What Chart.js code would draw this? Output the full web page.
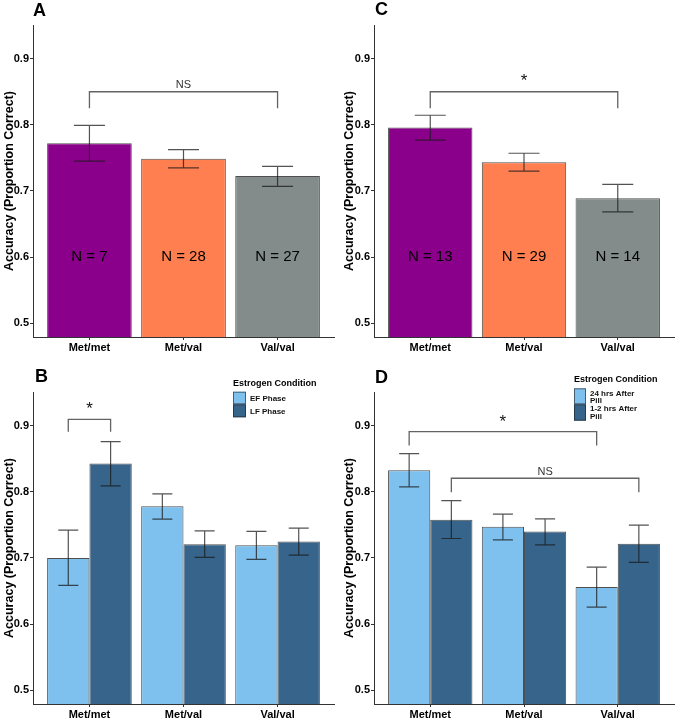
<!DOCTYPE html>
<html><head><meta charset="utf-8">
<script src="https://cdn.jsdelivr.net/npm/chart.js@4/dist/chart.umd.min.js"></script>
<style>
html,body{margin:0;padding:0;background:#fff;width:678px;height:719px;overflow:hidden;}
canvas{position:absolute;}
</style></head><body>
<canvas id="cA" width="339" height="360" style="left:0;top:0"></canvas>
<canvas id="cC" width="338" height="360" style="left:340px;top:0"></canvas>
<canvas id="cB" width="339" height="359" style="left:0;top:360px"></canvas>
<canvas id="cD" width="338" height="359" style="left:340px;top:360px"></canvas>
<script>
// ---------- data ----------
const genotypes = ['Met/met', 'Met/val', 'Val/val'];
const yTickValues = [0.5, 0.6, 0.7, 0.8, 0.9];
const yTitle = 'Accuracy (Proportion Correct)';
const legendTitle = 'Estrogen Condition';

// Panel A
const aMeans = [0.772, 0.7485, 0.7225];
const aLower = [0.745, 0.735, 0.707];
const aUpper = [0.799, 0.7625, 0.737];
const aNLabels = ['N = 7', 'N = 28', 'N = 27'];
const aBrackets = [{ from: [0, 0], to: [0, 2], bar: 0.85, leg: 0.825, text: 'NS', textY: 0.8603 }];

// Panel C
const cMeans = [0.796, 0.7435, 0.689];
const cLower = [0.7767, 0.730, 0.6684];
const cUpper = [0.8145, 0.757, 0.710];
const cNLabels = ['N = 13', 'N = 29', 'N = 14'];
const cBrackets = [{ from: [0, 0], to: [0, 2], bar: 0.85, leg: 0.825, text: '*', textY: 0.8719 }];

// Panel B
const bSeries = ['EF Phase', 'LF Phase'];
const bEF = [0.700, 0.778, 0.7193];
const bEFLower = [0.6584, 0.7586, 0.6977];
const bEFUpper = [0.742, 0.797, 0.740];
const bLF = [0.843, 0.7208, 0.7249];
const bLFLower = [0.809, 0.7007, 0.7042];
const bLFUpper = [0.876, 0.741, 0.745];
const bBrackets = [{ from: [0, 0], to: [1, 0], bar: 0.9096, leg: 0.891, text: '*', textY: 0.9312 }];

// Panel D
const dSeries = [['24 hrs After', 'Pill'], ['1-2 hrs After', 'Pill']];
const d24 = [0.8326, 0.747, 0.6559];
const d24Lower = [0.8074, 0.7274, 0.6257];
const d24Upper = [0.8577, 0.7661, 0.6861];
const d12 = [0.7576, 0.740, 0.7213];
const d12Lower = [0.7294, 0.7198, 0.6932];
const d12Upper = [0.7868, 0.7591, 0.7495];
const dBrackets = [
  { from: [0, 0], to: [0, 2], bar: 0.891, leg: 0.870, text: '*', textY: 0.9111 },
  { from: [1, 0], to: [1, 2], bar: 0.8205, leg: 0.7993, text: 'NS', textY: 0.8295 }
];

// ---------- styles ----------
const FONT = "'Liberation Sans', Arial, Helvetica, sans-serif";
const genotypeColors = ['#8B008B', '#FF7F50', '#838B8B'];
const lightBlue = '#7EC0EE';
const darkBlue = '#36648B';
const AXIS_COLOR = '#333333';

function toXY(vals) { return vals.map((v, i) => ({ x: i + 1, y: v })); }

function makeAnnot(cfg) {
  return {
    id: 'annot_' + cfg.id,
    afterDatasetsDraw(chart) {
      const ctx = chart.ctx;
      const ys = chart.scales.y;
      ctx.save();
      // error bars
      cfg.errors.forEach((err, d) => {
        const meta = chart.getDatasetMeta(d);
        meta.data.forEach((el, i) => {
          const x = el.x;
          const yl = ys.getPixelForValue(err.lower[i]);
          const yu = ys.getPixelForValue(err.upper[i]);
          const hw = cfg.capWidth / 2;
          ctx.strokeStyle = 'rgba(25,25,25,0.75)';
          ctx.lineWidth = 1.2;
          ctx.beginPath();
          ctx.moveTo(x, yl); ctx.lineTo(x, yu);
          ctx.moveTo(x - hw, yl); ctx.lineTo(x + hw, yl);
          ctx.moveTo(x - hw, yu); ctx.lineTo(x + hw, yu);
          ctx.stroke();
        });
      });
      // N labels
      if (cfg.nLabels) {
        const meta = chart.getDatasetMeta(0);
        ctx.fillStyle = '#000';
        ctx.font = '15px ' + FONT;
        ctx.textAlign = 'center';
        ctx.textBaseline = 'middle';
        meta.data.forEach((el, i) => {
          ctx.fillText(cfg.nLabels[i], el.x, ys.getPixelForValue(0.6));
        });
      }
      // brackets
      cfg.brackets.forEach(b => {
        const x1 = chart.getDatasetMeta(b.from[0]).data[b.from[1]].x;
        const x2 = chart.getDatasetMeta(b.to[0]).data[b.to[1]].x;
        const yb = ys.getPixelForValue(b.bar);
        const yl = ys.getPixelForValue(b.leg);
        ctx.strokeStyle = 'rgba(60,60,60,0.8)';
        ctx.lineWidth = 1.3;
        ctx.beginPath();
        ctx.moveTo(x1, yl); ctx.lineTo(x1, yb); ctx.lineTo(x2, yb); ctx.lineTo(x2, yl);
        ctx.stroke();
        ctx.fillStyle = b.text === '*' ? '#111' : '#333';
        ctx.textAlign = 'center';
        ctx.textBaseline = 'middle';
        const ty = ys.getPixelForValue(b.textY);
        if (b.text === '*') {
          ctx.font = '17px ' + FONT;
          ctx.fillText(b.text, (x1 + x2) / 2, ty + 17 * 0.22);
        } else {
          ctx.font = '11px ' + FONT;
          ctx.fillText(b.text, (x1 + x2) / 2, ty);
        }
      });
      ctx.restore();
    },
    afterDraw(chart) {
      const ctx = chart.ctx;
      ctx.save();
      // panel letter
      ctx.fillStyle = '#000';
      ctx.font = 'bold 18px ' + FONT;
      ctx.textAlign = 'left';
      ctx.textBaseline = 'middle';
      ctx.fillText(cfg.letter, cfg.letterPos[0], cfg.letterPos[1]);
      // legend
      if (cfg.legend) {
        const L = cfg.legend;
        ctx.font = 'bold 9px ' + FONT;
        ctx.textBaseline = 'middle';
        ctx.fillText(legendTitle, L.x, L.titleY);
        L.labels.forEach((lab, k) => {
          const ds = chart.data.datasets[k];
          const top = L.keyTops[k];
          const h = L.keyHeights[k];
          ctx.fillStyle = ds.backgroundColor;
          ctx.fillRect(L.x, top, L.keyW, h);
          ctx.strokeStyle = 'rgba(30,30,30,0.6)';
          ctx.lineWidth = 1;
          ctx.strokeRect(L.x + 0.5, top + 0.5, L.keyW - 1, h - 1);
          ctx.fillStyle = '#111';
          ctx.font = 'bold 8px ' + FONT;
          const lines = Array.isArray(lab) ? lab : [lab];
          lines.forEach((ln, j) => {
            ctx.fillText(ln, L.x + L.keyW + 4, L.textYs[k][j]);
          });
        });
      }
      ctx.restore();
    }
  };
}

function makeChart(cfg) {
  const tickFont = { family: FONT, size: 11, weight: 'bold' };
  new Chart(document.getElementById(cfg.id), {
    type: 'bar',
    data: { datasets: cfg.datasets },
    options: {
      responsive: false,
      animation: false,
      events: [],
      layout: { padding: { top: cfg.padTop, right: cfg.padRight, left: 0, bottom: 0 } },
      plugins: { legend: { display: false }, tooltip: { enabled: false } },
      scales: {
        x: {
          type: 'linear',
          min: 0.4, max: 3.6,
          offset: false,
          afterBuildTicks: s => { s.ticks = [1, 2, 3].map(v => ({ value: v })); },
          afterFit: s => { s.height = cfg.xAxisH; },
          ticks: {
            callback: v => genotypes[v - 1],
            font: tickFont, color: '#000', padding: 1,
            maxRotation: 0, autoSkip: false
          },
          grid: { offset: false, drawOnChartArea: false, drawTicks: true, tickLength: 3, color: AXIS_COLOR },
          border: { display: true, color: AXIS_COLOR, width: 1 }
        },
        y: {
          min: 0.479, max: 0.951,
          afterBuildTicks: s => { s.ticks = yTickValues.map(v => ({ value: v })); },
          afterFit: s => { s.width = cfg.yAxisW; },
          ticks: { callback: v => v.toFixed(1), font: tickFont, color: '#000', padding: 1 },
          grid: { drawOnChartArea: false, drawTicks: true, tickLength: 3, color: AXIS_COLOR },
          border: { display: true, color: AXIS_COLOR, width: 1 },
          title: {
            display: true, text: yTitle, color: '#000',
            font: { family: FONT, size: 12.5, weight: 'bold' },
            padding: { top: 2, bottom: 0 }
          }
        }
      }
    },
    plugins: [makeAnnot(cfg)]
  });
}

const barBorder = 'rgba(35,35,35,0.8)';

// Panel A
makeChart({
  id: 'cA', letter: 'A', letterPos: [33, 11.5],
  padTop: 25, padRight: 5, yAxisW: 33, xAxisH: 23, capWidth: 31,
  datasets: [{
    data: toXY(aMeans), backgroundColor: genotypeColors, borderColor: barBorder, borderWidth: 1,
    barPercentage: 0.9, categoryPercentage: 1.0
  }],
  errors: [{ lower: aLower, upper: aUpper }],
  nLabels: aNLabels, brackets: aBrackets
});

// Panel C
makeChart({
  id: 'cC', letter: 'C', letterPos: [35, 10],
  padTop: 25, padRight: 4, yAxisW: 34, xAxisH: 23, capWidth: 31,
  datasets: [{
    data: toXY(cMeans), backgroundColor: genotypeColors, borderColor: barBorder, borderWidth: 1,
    barPercentage: 0.9, categoryPercentage: 1.0
  }],
  errors: [{ lower: cLower, upper: cUpper }],
  nLabels: cNLabels, brackets: cBrackets
});

// Panel B
makeChart({
  id: 'cB', letter: 'B', letterPos: [35, 17],
  padTop: 32, padRight: 5, yAxisW: 33, xAxisH: 15, capWidth: 20,
  datasets: [
    { label: bSeries[0], data: toXY(bEF), backgroundColor: lightBlue, borderColor: barBorder, borderWidth: 1, barPercentage: 1.0, categoryPercentage: 0.9 },
    { label: bSeries[1], data: toXY(bLF), backgroundColor: darkBlue, borderColor: barBorder, borderWidth: 1, barPercentage: 1.0, categoryPercentage: 0.9 }
  ],
  errors: [{ lower: bEFLower, upper: bEFUpper }, { lower: bLFLower, upper: bLFUpper }],
  brackets: bBrackets,
  legend: {
    x: 233, titleY: 24, keyW: 13,
    keyTops: [31.7, 44.3], keyHeights: [12.6, 13],
    labels: bSeries, textYs: [[38.3], [51.3]]
  }
});

// Panel D
makeChart({
  id: 'cD', letter: 'D', letterPos: [35, 18.5],
  padTop: 32, padRight: 4, yAxisW: 34, xAxisH: 15, capWidth: 20,
  datasets: [
    { label: dSeries[0].join(' '), data: toXY(d24), backgroundColor: lightBlue, borderColor: barBorder, borderWidth: 1, barPercentage: 1.0, categoryPercentage: 0.9 },
    { label: dSeries[1].join(' '), data: toXY(d12), backgroundColor: darkBlue, borderColor: barBorder, borderWidth: 1, barPercentage: 1.0, categoryPercentage: 0.9 }
  ],
  errors: [{ lower: d24Lower, upper: d24Upper }, { lower: d12Lower, upper: d12Upper }],
  brackets: dBrackets,
  legend: {
    x: 234, titleY: 20, keyW: 12,
    keyTops: [28.3, 44.3], keyHeights: [16, 16.4],
    labels: dSeries, textYs: [[33.3, 40.7], [48.3, 56.7]]
  }
});
</script>
</body></html>
